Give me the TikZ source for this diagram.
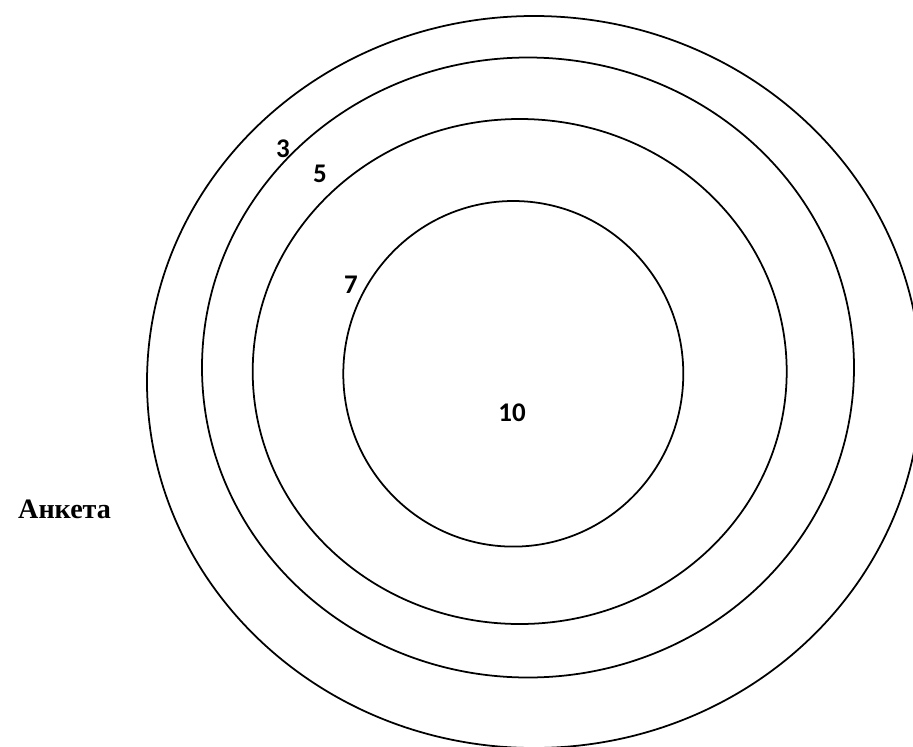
\documentclass[tikz,border=0pt]{standalone}
\usepackage{fontspec}
\newfontfamily\numfont{Carlito}
\newfontfamily\labelfont{Liberation Serif}

\begin{document}
\begin{tikzpicture}[x=0.03cm,y=-0.03cm,
    ring/.style={line width=1.5pt},
    score/.style={font=\numfont\bfseries\fontsize{23}{27}\selectfont, inner sep=0pt}]
    \useasboundingbox (0,0) rectangle (913,747);
    \clip (0,0) rectangle (913,747);

    \draw[ring] (534,382) ellipse (387 and 366);
    \draw[ring] (528,367.5) ellipse (326 and 310);
    \draw[ring] (519.7,371.5) ellipse (267 and 252.5);
    \draw[ring] (513.3,373.8) ellipse (170 and 172.8);

    \node[score] (three) at (283,149) {3};
    \node[score] (five) at (320,174) {5};
    \node[score] (seven) at (351,285) {7};
    \node[score] (ten) at (512,413) {10};

    \node[font=\labelfont\bfseries\fontsize{24}{28}\selectfont, inner sep=0pt, anchor=west] (survey) at (18,509) {Анкета};
\end{tikzpicture}
\end{document}
